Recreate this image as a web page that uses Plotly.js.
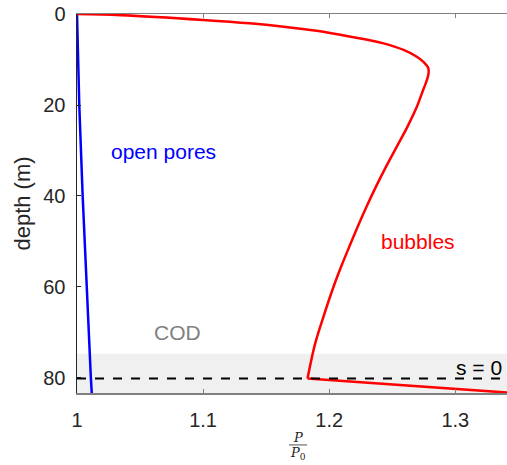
<!DOCTYPE html>
<html>
<head>
<meta charset="utf-8">
<script src="https://cdn.plot.ly/plotly-3.0.1.min.js"></script>
<style>html,body{margin:0;padding:0;background:#fff;}#chart{width:507px;height:465px;}</style>
</head>
<body>
<div id="chart"></div>
<script>
// Open pores curve
const poresDepth = [0, 10, 20, 40, 60, 74.7, 80, 83.3];
const poresP     = [1, 1.0008, 1.0018, 1.0045, 1.0075, 1.0103, 1.011, 1.0117];
// Bubbles curve, surface down to s = 0
const bubblesDepth = [0, 0.25, 1.3, 2.05, 2.8, 3.7, 5.0, 6.45, 7.9, 9.4, 10.6, 11.8, 13.0, 14.5, 16.7, 20.4, 24.8, 29.2, 33.6, 38.0, 42.4, 46.8, 51.1, 55.5, 59.9, 66.5, 72.4, 80.1];
const bubblesP     = [1, 1.035, 1.1, 1.137, 1.164, 1.190, 1.217, 1.243, 1.259, 1.2695, 1.275, 1.2785, 1.2788, 1.2775, 1.2745, 1.2695, 1.262, 1.2535, 1.245, 1.237, 1.2295, 1.2225, 1.216, 1.2095, 1.2035, 1.1955, 1.1889, 1.1828];
// Bubbles curve below s = 0
const closedDepth = [80.1, 82.3, 83.2];
const closedP     = [1.1828, 1.300, 1.341];
// Reference levels
const codDepth = 74.7;
const sZeroDepth = 80.1;
const xTicks = [1, 1.1, 1.2, 1.3];
const xTickLabels = ["1", "1.1", "1.2", "1.3"];
const yTicks = [0, 20, 40, 60, 80];
const yTickLabels = ["0", "20", "40", "60", "80"];
const xRange = [1, 1.341];
const yRange = [83.3, 0];

const traces = [
  {x: poresP, y: poresDepth, mode: 'lines', line: {color: '#0000ff', width: 2.5}, hoverinfo: 'skip'},
  {x: bubblesP, y: bubblesDepth, mode: 'lines', line: {color: '#ff0000', width: 2.5, shape: 'spline', smoothing: 1}, hoverinfo: 'skip'},
  {x: closedP, y: closedDepth, mode: 'lines', line: {color: '#ff0000', width: 2.5}, hoverinfo: 'skip'}
];

const layout = {
  width: 507, height: 465,
  margin: {l: 77, r: 0, t: 14, b: 72},
  paper_bgcolor: '#ffffff', plot_bgcolor: '#ffffff',
  showlegend: false,
  font: {family: 'Liberation Sans, Arial, sans-serif', color: '#262626'},
  xaxis: {
    range: xRange, tickvals: xTicks, ticktext: xTickLabels,
    ticks: 'inside', ticklen: 4, tickcolor: '#808080', tickwidth: 1,
    showline: true, linecolor: '#808080', linewidth: 1.5, mirror: 'ticks',
    showgrid: false, zeroline: false, ticklabelstandoff: 8,
    tickfont: {size: 20, color: '#262626'}
  },
  yaxis: {
    range: yRange, tickvals: yTicks, ticktext: yTickLabels,
    ticks: 'inside', ticklen: 4, tickcolor: '#262626', tickwidth: 1,
    showline: true, linecolor: '#262626', linewidth: 1.5,
    showgrid: false, zeroline: false, ticklabelstandoff: 6,
    tickfont: {size: 20, color: '#262626'},
    title: {text: 'depth (m)', font: {size: 22, color: '#262626'}, standoff: 6}
  },
  shapes: [
    {type: 'rect', xref: 'paper', yref: 'y', x0: 0, x1: 1, y0: codDepth, y1: yRange[0], fillcolor: '#f0f0f0', line: {width: 0}, layer: 'below'},
    {type: 'line', xref: 'paper', yref: 'y', x0: 0, x1: 0.99, y0: sZeroDepth, y1: sZeroDepth, line: {color: '#000000', width: 2, dash: 'dash'}},
    {type: 'line', xref: 'paper', yref: 'paper', x0: 0.493, x1: 0.535, y0: -0.137, y1: -0.137, line: {color: '#262626', width: 0.8}}
  ],
  annotations: [
    {text: 'open pores', x: 1.0687, y: 30.3, xref: 'x', yref: 'y', xanchor: 'center', showarrow: false, font: {size: 21, color: '#0000ff'}},
    {text: 'bubbles', x: 1.2706, y: 50.1, xref: 'x', yref: 'y', xanchor: 'center', showarrow: false, font: {size: 21, color: '#ff0000'}},
    {text: 'COD', x: 1.0798, y: 70.1, xref: 'x', yref: 'y', xanchor: 'center', showarrow: false, font: {size: 21, color: '#808080'}},
    {text: 's = 0', x: 1.319, y: 77.8, xref: 'x', yref: 'y', xanchor: 'center', showarrow: false, font: {size: 21, color: '#000000'}},
    {text: '<i>P</i>', x: 0.514, y: -0.118, xref: 'paper', yref: 'paper', xanchor: 'center', yanchor: 'middle', showarrow: false, font: {size: 13, family: 'DejaVu Serif, Liberation Serif, serif', color: '#262626'}},
    {text: '<i>P</i><sub>0</sub>', x: 0.514, y: -0.160, xref: 'paper', yref: 'paper', xanchor: 'center', yanchor: 'middle', showarrow: false, font: {size: 13, family: 'DejaVu Serif, Liberation Serif, serif', color: '#262626'}}
  ]
};

Plotly.newPlot('chart', traces, layout, {staticPlot: true, displayModeBar: false});
</script>
</body>
</html>
